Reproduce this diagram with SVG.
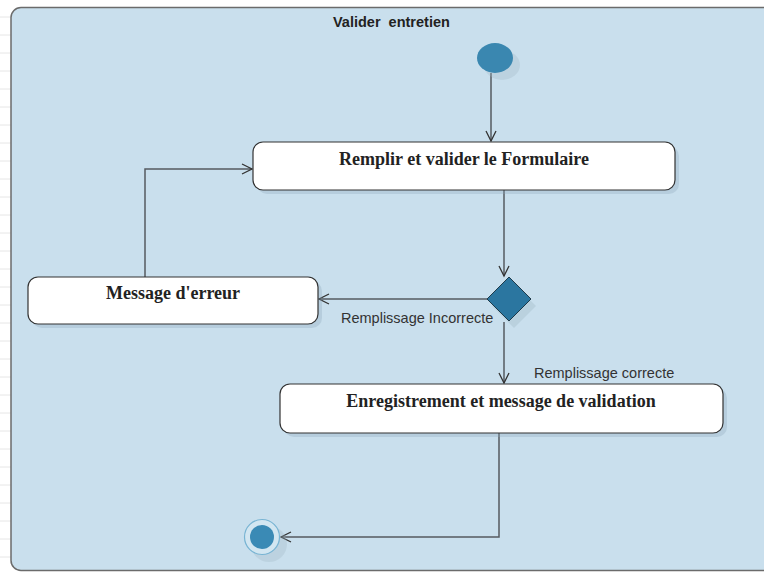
<svg xmlns="http://www.w3.org/2000/svg" width="764" height="572" viewBox="0 0 764 572">
  <style>
    .grid { stroke: #e6e6e6; stroke-width: 1; }
    .frame { fill: #c9dfed; stroke: #6b6b6b; stroke-width: 1.5; }
    .title { font-family: "Liberation Sans", Arial, sans-serif; font-size: 14.5px; font-weight: bold; fill: #222; white-space: pre; }
    .act { fill: #ffffff; stroke: #333; stroke-width: 1.2; }
    .shadow { fill: #8aa7b8; opacity: 0.3; }
    .label { font-family: "Liberation Serif", "Times New Roman", serif; font-size: 18px; font-weight: bold; fill: #222; text-anchor: middle; }
    .guard { font-family: "Liberation Sans", Arial, sans-serif; font-size: 14.5px; fill: #333; }
    .edge { fill: none; stroke: #555b60; stroke-width: 1.5; }
  </style>
  <defs>
    <marker id="open" markerWidth="14" markerHeight="14" refX="11" refY="6" orient="auto" markerUnits="userSpaceOnUse">
      <path d="M1,1 L11,6 L1,11" fill="none" stroke="#333" stroke-width="1.3"/>
    </marker>
  </defs>

  <rect width="764" height="572" fill="#ffffff"/>
  <!-- background grid -->
  <g class="grid">
    <line x1="0" y1="17" x2="11" y2="17"/>
    <line x1="0" y1="35" x2="11" y2="35"/>
    <line x1="0" y1="53" x2="11" y2="53"/>
    <line x1="0" y1="71" x2="11" y2="71"/>
    <line x1="0" y1="89" x2="11" y2="89"/>
    <line x1="0" y1="107" x2="11" y2="107"/>
    <line x1="0" y1="125" x2="11" y2="125"/>
    <line x1="0" y1="143" x2="11" y2="143"/>
    <line x1="0" y1="161" x2="11" y2="161"/>
    <line x1="0" y1="179" x2="11" y2="179"/>
    <line x1="0" y1="197" x2="11" y2="197"/>
    <line x1="0" y1="215" x2="11" y2="215"/>
    <line x1="0" y1="233" x2="11" y2="233"/>
    <line x1="0" y1="251" x2="11" y2="251"/>
    <line x1="0" y1="269" x2="11" y2="269"/>
    <line x1="0" y1="287" x2="11" y2="287"/>
    <line x1="0" y1="305" x2="11" y2="305"/>
    <line x1="0" y1="323" x2="11" y2="323"/>
    <line x1="0" y1="341" x2="11" y2="341"/>
    <line x1="0" y1="359" x2="11" y2="359"/>
    <line x1="0" y1="377" x2="11" y2="377"/>
    <line x1="0" y1="395" x2="11" y2="395"/>
    <line x1="0" y1="413" x2="11" y2="413"/>
    <line x1="0" y1="431" x2="11" y2="431"/>
    <line x1="0" y1="449" x2="11" y2="449"/>
    <line x1="0" y1="467" x2="11" y2="467"/>
    <line x1="0" y1="485" x2="11" y2="485"/>
    <line x1="0" y1="503" x2="11" y2="503"/>
    <line x1="0" y1="521" x2="11" y2="521"/>
    <line x1="0" y1="539" x2="11" y2="539"/>
    <line x1="0" y1="557" x2="11" y2="557"/>
  </g>

  <!-- activity frame -->
  <g id="frame">
    <rect class="frame" x="11" y="7.5" width="770" height="563" rx="10"/>
    <text class="title" x="333" y="27" xml:space="preserve">Valider  entretien</text>
  </g>

  <!-- connectors -->
  <g id="connectors">
    <path class="edge" d="M491,73 L491,141" marker-end="url(#open)"/>
    <path class="edge" d="M504,190 L504,276" marker-end="url(#open)"/>
    <path class="edge" d="M487,299 L319,299" marker-end="url(#open)"/>
    <path class="edge" d="M504,322 L504,383" marker-end="url(#open)"/>
    <path class="edge" d="M145,277 L145,169 L252,169" marker-end="url(#open)"/>
    <path class="edge" d="M499,433 L499,537 L281,537" marker-end="url(#open)"/>
    <text class="guard" x="341" y="323">Remplissage Incorrecte</text>
    <text class="guard" x="534" y="378">Remplissage correcte</text>
  </g>

  <g id="start">
    <ellipse cx="502" cy="65" rx="18" ry="15" fill="#9fb6c3" opacity="0.3"/>
    <ellipse cx="495" cy="58" rx="18" ry="15" fill="#3a87b0"/>
  </g>

  <g id="remplir">
    <rect class="shadow" x="257" y="146" width="422" height="48" rx="10"/>
    <rect class="act" x="253" y="142" width="422" height="48" rx="10"/>
    <text class="label" x="464" y="165">Remplir et valider le Formulaire</text>
  </g>

  <g id="decision">
    <polygon points="514,284 536,306 514,328 492,306" fill="#9fb6c3" opacity="0.35"/>
    <polygon points="509,277 531,299 509,321 487,299" fill="#2b76a0" stroke="#1e3a4a" stroke-width="1"/>
  </g>

  <g id="erreur">
    <rect class="shadow" x="32" y="281" width="290" height="47" rx="10"/>
    <rect class="act" x="28" y="277" width="290" height="47" rx="10"/>
    <text class="label" x="173" y="299">Message d'erreur</text>
  </g>

  <g id="enregistrement">
    <rect class="shadow" x="284" y="388" width="443" height="49" rx="10"/>
    <rect class="act" x="280" y="384" width="443" height="49" rx="10"/>
    <text class="label" x="501" y="407">Enregistrement et message de validation</text>
  </g>

  <g id="end">
    <circle cx="269" cy="544" r="18" fill="#9fb6c3" opacity="0.3"/>
    <circle cx="262" cy="537" r="17.5" fill="#d2e6f1" stroke="#78b4d3" stroke-width="1.2"/>
    <circle cx="262" cy="537" r="12" fill="#3a8ab5"/>
  </g>
</svg>
